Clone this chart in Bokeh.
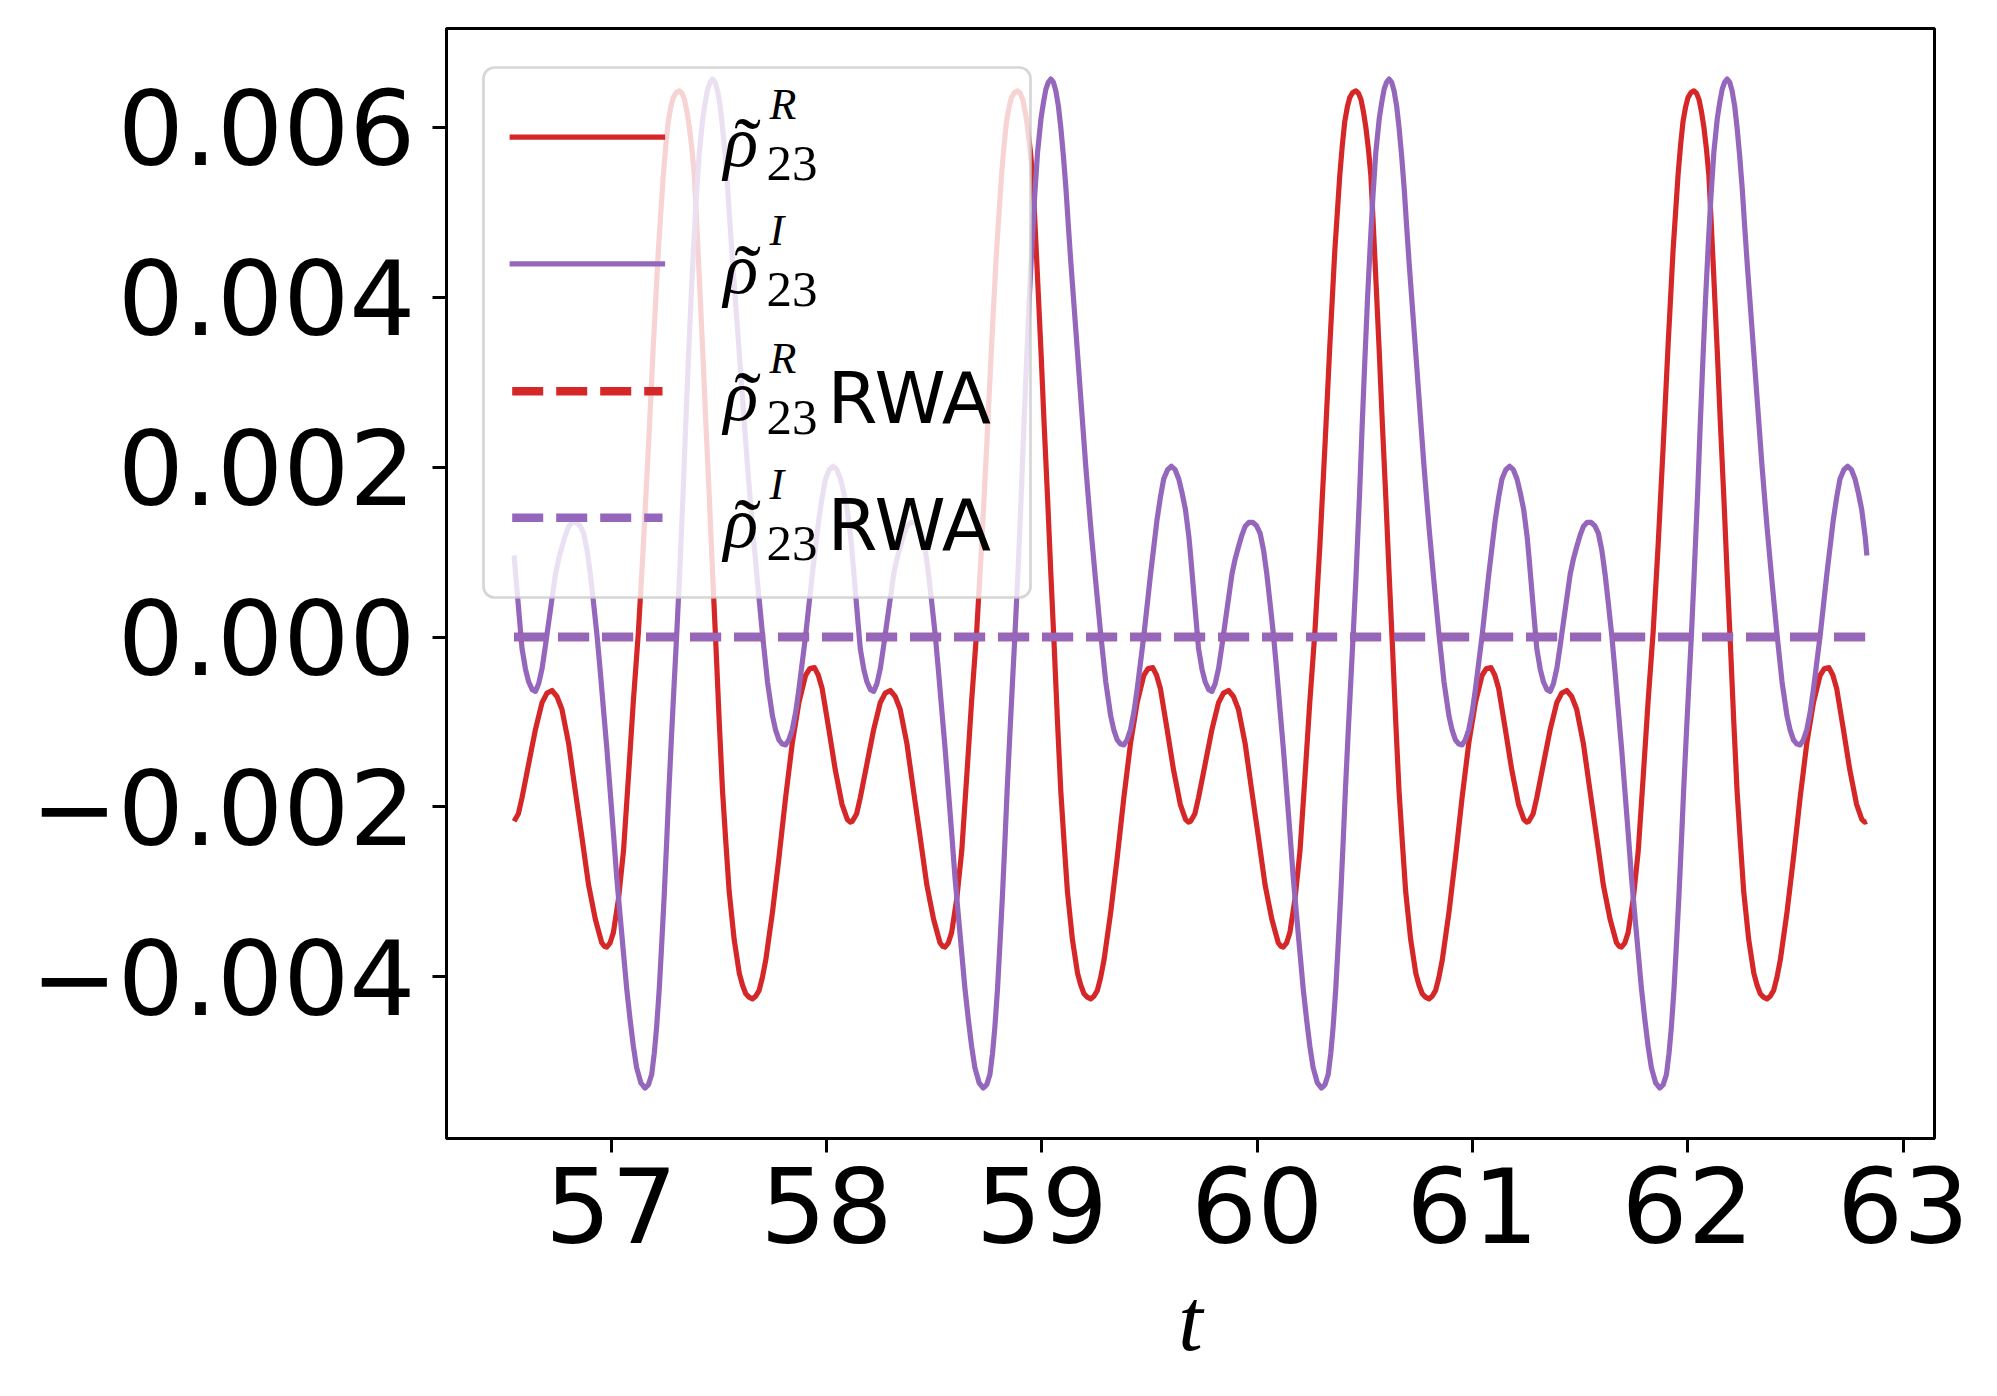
from bokeh.plotting import figure
from bokeh.models import Range1d, FixedTicker, CustomJSTickFormatter, BoxAnnotation
from bokeh.embed import file_html
from bokeh.resources import INLINE
from bokeh.core.properties import value

# ---------------- data ----------------
# The curves repeat with period pi/2.  One period of each curve is read off,
# phase measured from a maximum of the red curve; values in units of 1e-3.
red_phase = [0.000, 0.012, 0.023, 0.035, 0.046, 0.058, 0.069, 0.079, 0.089, 0.108,
             0.123, 0.139, 0.154, 0.170, 0.185, 0.200, 0.216, 0.231, 0.254, 0.278,
             0.293, 0.308, 0.323, 0.339, 0.354, 0.370, 0.385, 0.401, 0.432, 0.462,
             0.493, 0.524, 0.555, 0.586, 0.606, 0.627, 0.645, 0.663, 0.694, 0.724,
             0.755, 0.780, 0.793, 0.803, 0.823, 0.840, 0.871, 0.902, 0.933, 0.956,
             0.979, 1.002, 1.025, 1.056, 1.087, 1.118, 1.149, 1.180, 1.210, 1.222,
             1.233, 1.249, 1.264, 1.288, 1.311, 1.334, 1.357, 1.380, 1.403, 1.427,
             1.450, 1.473, 1.496, 1.508, 1.519, 1.531, 1.542, 1.556]
red_vals = [6.43, 6.40, 6.33, 6.18, 6.00, 5.74, 5.44, 4.93, 4.40, 3.37,
            2.49, 1.62, 0.74, -0.14, -1.01, -1.81, -2.44, -3.00, -3.56, -3.96,
            -4.10, -4.20, -4.24, -4.26, -4.23, -4.16, -4.01, -3.80, -3.24, -2.60,
            -1.89, -1.25, -0.77, -0.45, -0.37, -0.36, -0.45, -0.61, -1.09, -1.57,
            -1.97, -2.15, -2.18, -2.17, -2.08, -1.89, -1.49, -1.09, -0.77, -0.66,
            -0.63, -0.70, -0.85, -1.25, -1.81, -2.36, -2.92, -3.32, -3.60, -3.64,
            -3.65, -3.60, -3.48, -3.08, -2.52, -1.65, -0.75, 0.05, 1.06, 2.25,
            3.45, 4.56, 5.44, 5.80, 6.07, 6.24, 6.35, 6.41]

purple_phase = [0.000, 0.017, 0.029, 0.042, 0.054, 0.067, 0.079, 0.092, 0.108, 0.120,
                0.131, 0.142, 0.154, 0.166, 0.177, 0.189, 0.200, 0.212, 0.224, 0.235,
                0.247, 0.270, 0.293, 0.316, 0.339, 0.362, 0.386, 0.409, 0.432, 0.447,
                0.462, 0.478, 0.493, 0.508, 0.524, 0.540, 0.555, 0.586, 0.617, 0.647,
                0.663, 0.678, 0.696, 0.714, 0.731, 0.748, 0.763, 0.779, 0.795, 0.803,
                0.825, 0.840, 0.856, 0.871, 0.887, 0.902, 0.917, 0.933, 0.948, 0.964,
                0.980, 0.995, 1.010, 1.025, 1.040, 1.056, 1.074, 1.092, 1.109, 1.126,
                1.142, 1.157, 1.172, 1.188, 1.203, 1.218, 1.234, 1.249, 1.265, 1.280,
                1.296, 1.311, 1.326, 1.342, 1.357, 1.372, 1.392, 1.411, 1.427, 1.442,
                1.454, 1.465, 1.477, 1.488, 1.500, 1.511, 1.522, 1.534, 1.546, 1.558]
purple_vals = [0.70, 1.70, 2.50, 3.30, 4.00, 4.65, 5.20, 5.70, 6.10, 6.30,
               6.45, 6.53, 6.57, 6.53, 6.43, 6.25, 6.00, 5.67, 5.28, 4.85,
               4.40, 3.61, 2.81, 2.01, 1.30, 0.66, 0.02, -0.53, -0.93, -1.10,
               -1.21, -1.26, -1.27, -1.21, -1.09, -0.88, -0.61, 0.02, 0.74, 1.38,
               1.65, 1.86, 1.97, 2.01, 1.97, 1.86, 1.70, 1.50, 1.18, 0.96,
               0.30, -0.14, -0.38, -0.53, -0.62, -0.64, -0.55, -0.37, -0.11, 0.18,
               0.47, 0.74, 0.92, 1.06, 1.19, 1.30, 1.35, 1.35, 1.31, 1.22,
               1.02, 0.74, 0.40, 0.02, -0.40, -0.85, -1.32, -1.81, -2.33, -2.84,
               -3.30, -3.72, -4.14, -4.51, -4.82, -5.07, -5.25, -5.31, -5.27, -5.15,
               -4.90, -4.59, -4.15, -3.64, -3.05, -2.44, -1.80, -1.17, -0.57, 0.02]

# times of the red maxima that start each period
period_anchors = [55.746, 57.317, 58.888, 60.459, 62.029]
t_first, t_last = 56.549, 62.832

# RWA curves (flat at zero)
rwa_t = [56.549, 62.832]
rwa_r = [0.0, 0.0]
rwa_i = [0.0, 0.0]

x_ticks = [57, 58, 59, 60, 61, 62, 63]
y_ticks = [-0.004, -0.002, 0.0, 0.002, 0.004, 0.006]

RED = "#d62728"
PURPLE = "#9467bd"


def build(phases, vals):
    ts, ys = [], []
    for a in period_anchors:
        for ph, v in zip(phases, vals):
            t = a + ph
            if t_first - 0.002 <= t <= t_last + 0.002:
                ts.append(t)
                ys.append(v * 1e-3)
    return ts, ys


red_t, red_y = build(red_phase, red_vals)
pur_t, pur_y = build(purple_phase, purple_vals)

# ---------------- figure ----------------
XR0, XR1 = 56.235, 63.146
YR0, YR1 = -0.005904, 0.007164

FL, FT = 446, 28          # frame position in the picture (px)
FW, FH = 1488, 1110

p = figure(frame_width=FW, frame_height=FH,
           min_border_left=FL, min_border_top=FT,
           min_border_right=50, min_border_bottom=200,
           x_range=Range1d(XR0, XR1), y_range=Range1d(YR0, YR1),
           output_backend="svg", toolbar_location=None,
           background_fill_color="white", border_fill_color="white")
p.grid.visible = False
p.outline_line_color = "black"
p.outline_line_width = 3
p.outline_line_alpha = 1.0


def px2x(X):
    return XR0 + (X - FL) / FW * (XR1 - XR0)


def px2y(Y):
    return YR1 - (Y - FT) / FH * (YR1 - YR0)


for ax in (p.xaxis[0], p.yaxis[0]):
    ax.axis_line_width = 3
    ax.axis_line_color = "black"
    ax.major_tick_line_width = 3
    ax.major_tick_line_color = "black"
    ax.major_tick_out = 14
    ax.major_tick_in = 0
    ax.minor_tick_line_color = None
    ax.major_label_text_font = "DejaVu Sans"
    ax.major_label_text_font_size = "104px"
    ax.major_label_text_color = "black"

p.xaxis[0].ticker = FixedTicker(ticks=x_ticks)
p.yaxis[0].ticker = FixedTicker(ticks=y_ticks)
p.yaxis[0].formatter = CustomJSTickFormatter(
    code="return (tick < -1e-12 ? '\u2212' : '') + Math.abs(tick).toFixed(3);")
p.xaxis[0].major_label_standoff = 14
p.yaxis[0].major_label_standoff = 17

p.xaxis[0].axis_label = "t"
p.xaxis[0].axis_label_text_font = "Liberation Serif"
p.xaxis[0].axis_label_text_font_style = "italic"
p.xaxis[0].axis_label_text_font_size = "88px"
p.xaxis[0].axis_label_text_color = "black"
p.xaxis[0].axis_label_standoff = 26

LW = 5.2
# ---------------- curves ----------------
p.line(red_t, red_y, line_color=RED, line_width=LW, line_join="round")
p.line(pur_t, pur_y, line_color=PURPLE, line_width=LW, line_join="round")
p.line(rwa_t, rwa_r, line_color=RED, line_width=8.4, line_dash="31 13")
p.line(rwa_t, rwa_i, line_color=PURPLE, line_width=8.4, line_dash="31 13")

# ---------------- legend (drawn by hand) ----------------
box = BoxAnnotation(left=px2x(483), right=px2x(1030), top=px2y(67), bottom=px2y(597),
                    fill_color="white", fill_alpha=0.8,
                    line_color="#cccccc", line_alpha=0.8, line_width=2.7)
try:
    box.border_radius = 11
except Exception:
    pass
p.add_layout(box)

rows = [136.7, 263.3, 390.7, 517.3]
entries = [("R", RED, None, False), ("I", PURPLE, None, False),
           ("R", RED, "31 13", True), ("I", PURPLE, "31 13", True)]
TXT_SHIFT = -18   # text glyphs render slightly below their baseline

for L, (sup, col, dash, rwa) in zip(rows, entries):
    if dash is None:
        r = p.line([px2x(511.7), px2x(662)], [px2y(L), px2y(L)], line_color=col,
                   line_width=LW, line_cap="square")
    else:
        r = p.line([px2x(511.7), px2x(662)], [px2y(L), px2y(L)], line_color=col,
                   line_width=8.4, line_dash=dash)
    r.level = "overlay"
    texts = [
        (723, L + 23, "\u03c1", "italic", "72px", "left", "Liberation Serif"),
        (747, L + 27, "\u02dc", "normal", "80px", "center", "Liberation Serif"),
        (769, L - 15, sup, "italic", "44px", "left", "Liberation Serif"),
        (766, L + 44, "23", "normal", "51px", "left", "Liberation Serif"),
    ]
    if rwa:
        texts.append((827, L + 25, "RWA", "normal", "72px", "left", "DejaVu Sans"))
    for (X, Y, s, style, size, align, font) in texts:
        g = p.text(x=[px2x(X)], y=[px2y(Y + TXT_SHIFT)], text=[s], text_font=value(font),
                   text_font_style=style, text_font_size=value(size),
                   text_align=align, text_baseline="alphabetic", text_color="black")
        g.level = "overlay"

open("out.html", "w").write(file_html(p, INLINE))
